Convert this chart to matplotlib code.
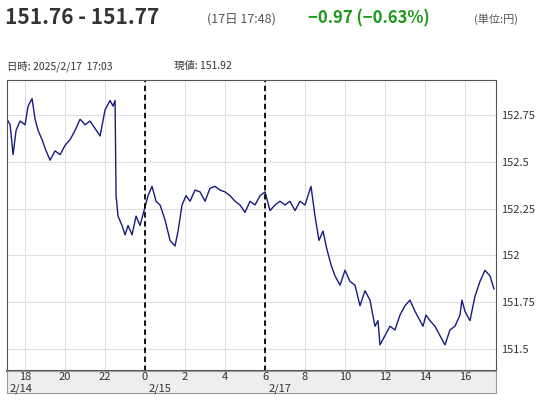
import matplotlib
matplotlib.use("Agg")
import matplotlib.pyplot as plt

plt.rcParams["font.family"] = ["Noto Sans CJK JP", "DejaVu Sans"]

# hours on a continuous trading axis (24 = 2/15 0:00, 30 = 2/17 6:00)
hours = [17.1, 17.25, 17.4, 17.55, 17.75, 18.0, 18.15, 18.35, 18.5, 18.65, 18.85,
         19.05, 19.25, 19.5, 19.75, 20.0, 20.25, 20.5, 20.75, 21.0, 21.25, 21.5,
         21.75, 22.0, 22.25, 22.4, 22.5, 22.55, 22.65, 22.85, 23.0, 23.15, 23.35,
         23.55, 23.75, 23.95, 24.15, 24.35, 24.55, 24.75, 25.0, 25.25, 25.5, 25.65,
         25.85, 26.05, 26.25, 26.5, 26.75, 27.0, 27.25, 27.5, 27.75, 28.0, 28.25,
         28.5, 28.75, 29.0, 29.25, 29.5, 29.75, 30.0, 30.25, 30.5, 30.75, 31.0,
         31.25, 31.5, 31.75, 32.0, 32.15, 32.3, 32.4, 32.5, 32.7, 32.9, 33.1, 33.3,
         33.5, 33.75, 34.0, 34.25, 34.5, 34.75, 35.0, 35.25, 35.5, 35.65, 35.75,
         36.0, 36.25, 36.5, 36.75, 37.0, 37.25, 37.5, 37.75, 37.9, 38.05, 38.25,
         38.5, 38.75, 39.0, 39.25, 39.5, 39.75, 39.85, 40.0, 40.25, 40.5, 40.75,
         41.0, 41.25, 41.45]
prices = [152.73, 152.70, 152.54, 152.67, 152.72, 152.70, 152.80, 152.84, 152.73, 152.67,
          152.62, 152.56, 152.51, 152.56, 152.54, 152.59, 152.62, 152.67, 152.73, 152.70,
          152.72, 152.68, 152.64, 152.78, 152.83, 152.80, 152.83, 152.32, 152.21, 152.16,
          152.11, 152.16, 152.11, 152.21, 152.16, 152.24, 152.32, 152.37, 152.29, 152.27,
          152.19, 152.08, 152.05, 152.13, 152.27, 152.32, 152.29, 152.35, 152.34, 152.29,
          152.36, 152.37, 152.35, 152.34, 152.32, 152.29, 152.27, 152.23, 152.29, 152.27,
          152.32, 152.34, 152.24, 152.27, 152.29, 152.27, 152.29, 152.24, 152.29, 152.27,
          152.32, 152.37, 152.29, 152.21, 152.08, 152.13, 152.03, 151.95, 151.89, 151.84,
          151.92, 151.86, 151.84, 151.73, 151.81, 151.76, 151.62, 151.65, 151.52, 151.57,
          151.62, 151.60, 151.68, 151.73, 151.76, 151.70, 151.65, 151.62, 151.68, 151.65,
          151.62, 151.57, 151.52, 151.60, 151.62, 151.68, 151.76, 151.70, 151.65, 151.78,
          151.86, 151.92, 151.89, 151.82]
tick_pos = [18, 20, 22, 24, 26, 28, 30, 32, 34, 36, 38, 40]
tick_labels = ["18", "20", "22", "0", "2", "4", "6", "8", "10", "12", "14", "16"]
date_pos = [17.2, 24.2, 30.2]
date_labels = ["2/14", "2/15", "2/17"]
y_ticks = [151.5, 151.75, 152, 152.25, 152.5, 152.75]
y_labels = ["151.5", "151.75", "152", "152.25", "152.5", "152.75"]
day_breaks = [24, 30]

xlim = (17.1, 41.55)
fig = plt.figure(figsize=(5.45, 4), dpi=100)
ax = fig.add_axes([0.013, 0.0725, 0.897, 0.7275])
ax.plot(hours, prices, color="#1a1a80", lw=1.0)
for b in day_breaks:
    ax.axvline(b, color="black", ls=(0, (3, 2)), lw=1.3)
ax.set_xlim(*xlim)
ax.set_ylim(151.38, 152.94)
ax.set_xticks(tick_pos)
ax.set_xticklabels([])
ax.tick_params(axis="x", length=0)
ax.yaxis.tick_right()
ax.set_yticks(y_ticks)
ax.set_yticklabels(y_labels, fontsize=8, color="#333333")
ax.tick_params(axis="y", length=0, pad=4)
ax.grid(color="#e0e0e0", lw=0.8)
for s in ax.spines.values():
    s.set_color("#555555")
ax.spines["bottom"].set_linewidth(1.5)

band = fig.add_axes([0.013, 0.0175, 0.897, 0.055])
band.set_facecolor("#eeeeee")
band.set_xlim(*xlim)
band.set_ylim(0, 1)
band.set_xticks([])
band.set_yticks([])
for s in band.spines.values():
    s.set_color("#999999")
for p, t in zip(tick_pos, tick_labels):
    band.text(p, 0.72, t, ha="center", va="center", fontsize=8, color="#333333")
for p, t in zip(date_pos, date_labels):
    band.text(p, 0.2, t, ha="left", va="center", fontsize=8, color="#333333")

fig.text(0.01, 0.955, "151.76 - 151.77", fontsize=15, fontweight="bold", color="#333333", va="center")
fig.text(0.38, 0.953, "(17日 17:48)", fontsize=9, color="#555555", va="center")
fig.text(0.565, 0.955, "\u22120.97 (\u22120.63%)", fontsize=12, fontweight="bold", color="#1a9a1a", va="center")
fig.text(0.87, 0.953, "(単位:円)", fontsize=8, color="#555555", va="center")
fig.text(0.013, 0.835, "日時: 2025/2/17  17:03", fontsize=7.5, color="#333333", va="center")
fig.text(0.32, 0.835, "現値: 151.92", fontsize=7.5, color="#333333", va="center")

fig.savefig("out.png", dpi=100)
